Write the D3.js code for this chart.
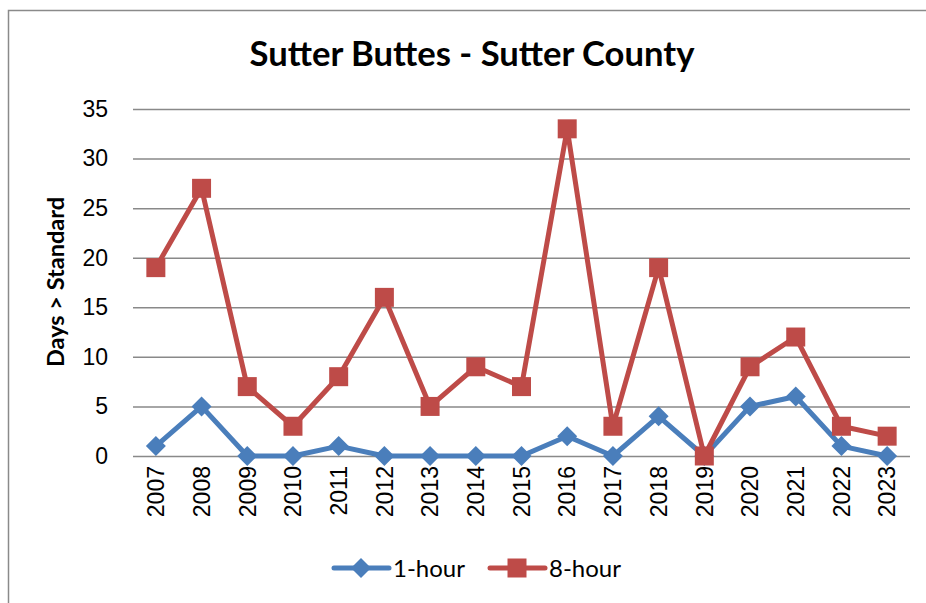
<!DOCTYPE html>
<html>
<head>
<meta charset="utf-8">
<script src="https://cdn.jsdelivr.net/npm/d3@7"></script>
<style>
  body { margin: 0; background: #fff; }
  svg { display: block; }
</style>
</head>
<body>
<div id="chart"></div>
<script>
// chart data
var years = ["2007", "2008", "2009", "2010", "2011", "2012", "2013", "2014", "2015",
             "2016", "2017", "2018", "2019", "2020", "2021", "2022", "2023"];
var oneHour = [1, 5, 0, 0, 1, 0, 0, 0, 0, 2, 0, 4, 0, 5, 6, 1, 0];
var eightHour = [19, 27, 7, 3, 8, 16, 5, 9, 7, 33, 3, 19, 0, 9, 12, 3, 2];
var yTicks = [0, 5, 10, 15, 20, 25, 30, 35];
var seriesNames = ["1-hour", "8-hour"];

var width = 926, height = 603;
var margin = { top: 109, right: 16, bottom: 147, left: 133 },
    plotW = width - margin.left - margin.right,
    plotH = height - margin.top - margin.bottom;

var blue = "#4A7EBB", red = "#BE4B48";

var svg = d3.select("#chart").append("svg")
    .attr("width", width)
    .attr("height", height);

// outer chart frame (runs off the right and bottom edges)
svg.append("rect")
    .attr("x", 8.5).attr("y", 10.5)
    .attr("width", 960).attr("height", 640)
    .attr("fill", "none")
    .attr("stroke", "#8a8a8a")
    .attr("stroke-width", 1.5);

var g = svg.append("g")
    .attr("transform", "translate(" + margin.left + "," + margin.top + ")");

var x = d3.scaleBand().domain(years).range([0, plotW]).padding(0);
var y = d3.scaleLinear().domain([0, 35]).range([plotH, 0]);
function cx(d, i) { return x(years[i]) + x.bandwidth() / 2; }

// y axis with gridlines
var yAxis = g.append("g")
    .call(d3.axisLeft(y).tickValues(yTicks).tickSize(-plotW).tickPadding(25));
yAxis.select(".domain").remove();
yAxis.selectAll(".tick line")
    .attr("stroke", "#898989")
    .attr("stroke-width", 1.5);
yAxis.selectAll(".tick text")
    .attr("fill", "#000")
    .style("font-family", "'Liberation Sans', Arial, sans-serif")
    .style("font-size", "23px");

// x axis labels, rotated
var xAxis = g.append("g")
    .attr("transform", "translate(0," + plotH + ")")
    .call(d3.axisBottom(x).tickSize(0).tickPadding(0));
xAxis.select(".domain").remove();
xAxis.selectAll(".tick text")
    .attr("transform", "rotate(-90)")
    .attr("x", -10)
    .attr("y", 0)
    .attr("dy", "0.36em")
    .attr("text-anchor", "end")
    .attr("fill", "#000")
    .style("font-family", "'Liberation Sans', Arial, sans-serif")
    .style("font-size", "23px");

// lines
var line = d3.line()
    .x(function(d, i) { return cx(d, i); })
    .y(function(d) { return y(d); });

function diamond(s) {
  return "M0," + (-s) + "L" + s + ",0L0," + s + "L" + (-s) + ",0Z";
}
function square(s) {
  return "M" + (-s) + "," + (-s) + "h" + (2 * s) + "v" + (2 * s) + "h" + (-2 * s) + "Z";
}

// 1-hour first, 8-hour drawn on top
g.append("path")
    .datum(oneHour)
    .attr("d", line)
    .attr("fill", "none")
    .attr("stroke", blue)
    .attr("stroke-width", 5)
    .attr("stroke-linejoin", "round");

g.selectAll(".dm")
    .data(oneHour)
    .enter().append("path")
    .attr("class", "dm")
    .attr("d", diamond(10))
    .attr("transform", function(d, i) { return "translate(" + cx(d, i) + "," + y(d) + ")"; })
    .attr("fill", blue);

g.append("path")
    .datum(eightHour)
    .attr("d", line)
    .attr("fill", "none")
    .attr("stroke", red)
    .attr("stroke-width", 5)
    .attr("stroke-linejoin", "round");

g.selectAll(".sq")
    .data(eightHour)
    .enter().append("path")
    .attr("class", "sq")
    .attr("d", square(9.5))
    .attr("transform", function(d, i) { return "translate(" + cx(d, i) + "," + y(d) + ")"; })
    .attr("fill", red);

// title
var title = svg.append("text")
    .attr("x", 472)
    .attr("y", 66)
    .attr("text-anchor", "middle")
    .style("font-family", "Lato, 'Open Sans', sans-serif")
    .style("font-weight", "bold")
    .style("font-size", "32px")
    .text("Sutter Buttes - Sutter County");
var tw = title.node().getComputedTextLength();
title.style("font-size", (32 * 445 / tw) + "px");

// y axis title
svg.append("text")
    .attr("transform", "translate(64,282) rotate(-90)")
    .attr("text-anchor", "middle")
    .style("font-family", "Lato, 'Open Sans', sans-serif")
    .style("font-weight", "bold")
    .style("font-size", "23.5px")
    .text("Days > Standard");

// legend
var legend = svg.append("g");
var legendItems = [
  { name: seriesNames[0], color: blue, x0: 334, shape: diamond(10) },
  { name: seriesNames[1], color: red, x0: 490, shape: square(9.5) }
];
legendItems.forEach(function(it) {
  legend.append("line")
      .attr("x1", it.x0).attr("x2", it.x0 + 55)
      .attr("y1", 568).attr("y2", 568)
      .attr("stroke", it.color)
      .attr("stroke-width", 5)
      .attr("stroke-linecap", "round");
  legend.append("path")
      .attr("d", it.shape)
      .attr("transform", "translate(" + (it.x0 + 27) + ",568)")
      .attr("fill", it.color);
  legend.append("text")
      .attr("x", it.x0 + 59)
      .attr("y", 577)
      .style("font-family", "Lato, 'Open Sans', sans-serif")
      .style("font-size", "24px")
      .text(it.name);
});
</script>
</body>
</html>
